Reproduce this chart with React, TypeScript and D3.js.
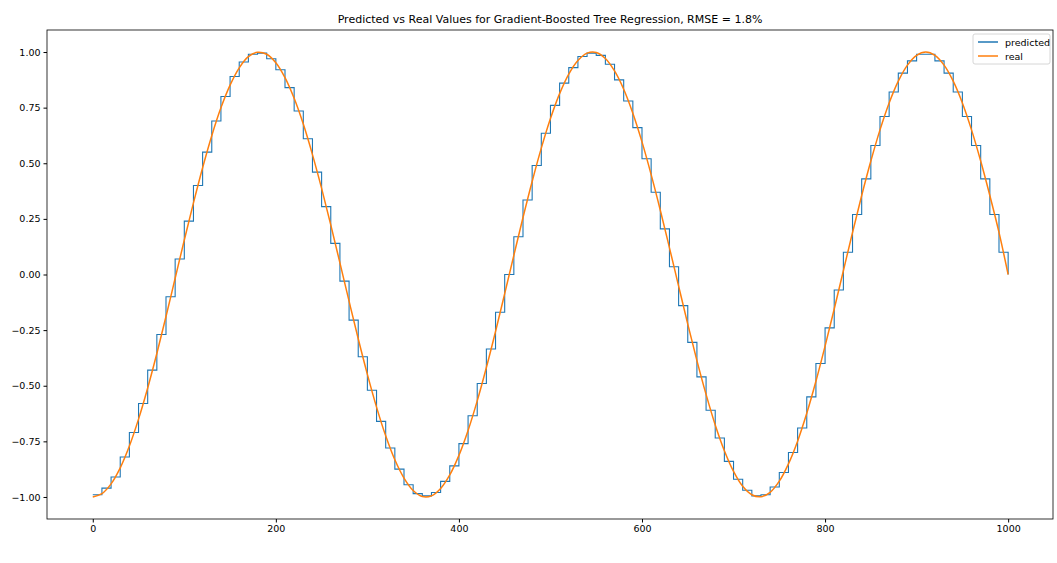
import { useEffect, useRef } from "react";
import * as d3 from "d3";

// sampled every 10 units on x
const xs = d3.range(0, 1001, 10);
const real = [
  -1.0, -0.985, -0.941, -0.869, -0.771, -0.65, -0.51, -0.355, -0.189, -0.017,
  0.155, 0.322, 0.48, 0.624, 0.749, 0.851, 0.929, 0.979, 0.999, 0.99,
  0.952, 0.885, 0.792, 0.676, 0.539, 0.387, 0.223, 0.052, -0.12, -0.289,
  -0.449, -0.596, -0.725, -0.833, -0.915, -0.971, -0.998, -0.995, -0.962, -0.901,
  -0.813, -0.701, -0.568, -0.418, -0.256, -0.086, 0.086, 0.256, 0.418, 0.568,
  0.701, 0.813, 0.901, 0.962, 0.995, 0.998, 0.971, 0.915, 0.833, 0.725,
  0.596, 0.449, 0.289, 0.12, -0.052, -0.223, -0.387, -0.539, -0.676, -0.792,
  -0.885, -0.952, -0.99, -0.999, -0.979, -0.929, -0.851, -0.749, -0.624, -0.48,
  -0.322, -0.155, 0.017, 0.189, 0.355, 0.51, 0.65, 0.771, 0.869, 0.941,
  0.985, 1.0, 0.985, 0.941, 0.869, 0.771, 0.65, 0.51, 0.355, 0.189, 0.0,
];
const predicted = [
  -0.99, -0.96, -0.91, -0.82, -0.71, -0.58, -0.43, -0.27, -0.1, 0.07,
  0.24, 0.4, 0.55, 0.69, 0.8, 0.89, 0.955, 0.99, 0.995, 0.97,
  0.92, 0.84, 0.735, 0.61, 0.46, 0.305, 0.14, -0.03, -0.205, -0.37,
  -0.52, -0.66, -0.78, -0.875, -0.945, -0.985, -0.995, -0.98, -0.93, -0.86,
  -0.76, -0.635, -0.49, -0.335, -0.17, 0.0, 0.17, 0.335, 0.49, 0.635,
  0.76, 0.86, 0.93, 0.98, 0.995, 0.985, 0.945, 0.875, 0.78, 0.66,
  0.52, 0.37, 0.205, 0.035, -0.14, -0.305, -0.46, -0.61, -0.735, -0.84,
  -0.92, -0.97, -0.995, -0.99, -0.955, -0.89, -0.8, -0.69, -0.55, -0.4,
  -0.24, -0.07, 0.1, 0.27, 0.43, 0.58, 0.71, 0.82, 0.905, 0.96,
  0.99, 0.99, 0.96, 0.905, 0.82, 0.71, 0.58, 0.43, 0.27, 0.1, 0.0,
];
const xTicks = [0, 200, 400, 600, 800, 1000];
const yTicks = [-1, -0.75, -0.5, -0.25, 0, 0.25, 0.5, 0.75, 1];

const App = () => {
  const ref = useRef<SVGSVGElement | null>(null);

  useEffect(() => {
    if (!ref.current) return;
    const svg = d3.select(ref.current);
    svg.selectAll("*").remove();
    const m = { left: 47, right: 1053, top: 30, bottom: 519 };
    const font = "DejaVu Sans, sans-serif";

    const x = d3.scaleLinear().domain([-50, 1049]).range([m.left, m.right]);
    const y = d3.scaleLinear().domain([-1.099, 1.099]).range([m.bottom, m.top]);

    svg.append("rect").attr("width", 1057).attr("height", 563).attr("fill", "#fff");

    const pts = (ys: number[]) => xs.map((v, i) => [v, ys[i]] as [number, number]);
    const lineStep = d3.line<[number, number]>().x((d) => x(d[0])).y((d) => y(d[1])).curve(d3.curveStepAfter);
    const lineReal = d3.line<[number, number]>().x((d) => x(d[0])).y((d) => y(d[1])).curve(d3.curveCatmullRom);

    svg.append("path").attr("d", lineStep(pts(predicted))!).attr("fill", "none").attr("stroke", "#1f77b4").attr("stroke-width", 1.1);
    svg.append("path").attr("d", lineReal(pts(real))!).attr("fill", "none").attr("stroke", "#ff7f0e").attr("stroke-width", 1.5);

    svg.append("rect")
      .attr("x", m.left).attr("y", m.top)
      .attr("width", m.right - m.left).attr("height", m.bottom - m.top)
      .attr("fill", "none").attr("stroke", "#000").attr("stroke-width", 0.8);

    const xa = svg.append("g").attr("transform", `translate(0,${m.bottom})`)
      .call(d3.axisBottom(x).tickValues(xTicks).tickSize(3.5).tickPadding(3).tickFormat(d3.format("d")));
    xa.select(".domain").remove();
    xa.selectAll("text").style("font-family", font).style("font-size", "9.5px").attr("fill", "#000");

    const ya = svg.append("g").attr("transform", `translate(${m.left},0)`)
      .call(d3.axisLeft(y).tickValues(yTicks).tickSize(3.5).tickPadding(3).tickFormat(d3.format(".2f")));
    ya.select(".domain").remove();
    ya.selectAll("text").style("font-family", font).style("font-size", "9.5px").attr("fill", "#000")
      .text((d) => d3.format(".2f")(d as number).replace("-", "−"));

    svg.append("text").attr("x", (m.left + m.right) / 2).attr("y", 23).attr("text-anchor", "middle")
      .style("font-family", font).style("font-size", "11px")
      .text("Predicted vs Real Values for Gradient-Boosted Tree Regression, RMSE = 1.8%");

    // Legend
    const lg = svg.append("g").attr("transform", "translate(973,34)");
    lg.append("rect").attr("width", 77).attr("height", 30).attr("rx", 2)
      .attr("fill", "#fff").attr("stroke", "#ccc").attr("stroke-width", 0.8);
    const items = [["predicted", "#1f77b4"], ["real", "#ff7f0e"]];
    items.forEach(([label, c], i) => {
      const yy = 8 + i * 14;
      lg.append("line").attr("x1", 5).attr("x2", 25).attr("y1", yy).attr("y2", yy).attr("stroke", c).attr("stroke-width", 1.5);
      lg.append("text").attr("x", 32).attr("y", yy + 3.5).style("font-family", font).style("font-size", "9.5px").text(label);
    });
  }, []);

  return <svg ref={ref} width={1057} height={563} style={{ position: "absolute", left: 0, top: 0 }} />;
};

export default App;
